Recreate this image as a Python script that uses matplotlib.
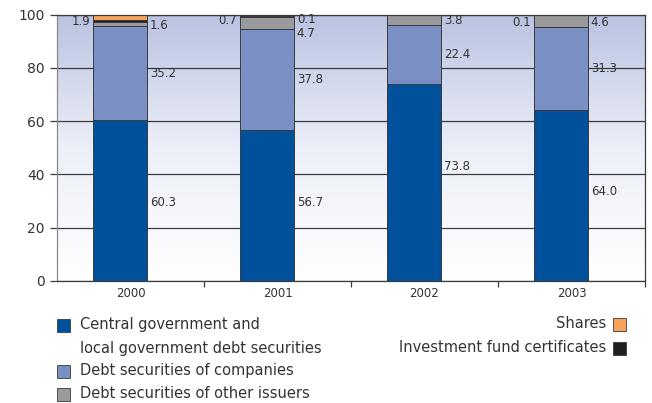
import numpy as np
import matplotlib.pyplot as plt
from matplotlib.patches import Rectangle
from matplotlib.colors import LinearSegmentedColormap

# Portfolio structure by instrument type, % of total
years = ["2000", "2001", "2002", "2003"]
central_gov = [60.3, 56.7, 73.8, 64.0]
companies = [35.2, 37.8, 22.4, 31.3]
other_issuers = [1.6, 4.7, 3.8, 4.6]
fund_certificates = [1.0, 0.1, 0.0, 0.0]
shares = [1.9, 0.7, 0.0, 0.1]

C_CENTRAL = "#00509b"
C_COMPANIES = "#7a8fc3"
C_OTHER = "#9a9a9c"
C_SHARES = "#f7a35c"
C_FUNDS = "#231f20"
EDGE = "#3a3a3a"
TEXT = "#333333"

plt.rcParams["font.family"] = "DejaVu Sans"

fig = plt.figure(figsize=(6.52, 4.03), dpi=100)
ax = fig.add_axes([57 / 652, 122 / 403, 588 / 652, 266.5 / 403])

# soft blue-to-white backdrop
grad = np.linspace(0, 1, 256).reshape(-1, 1)
cmap = LinearSegmentedColormap.from_list("bg", ["#ffffff", "#eceff8", "#b9c2e1"])
ax.imshow(grad, extent=[-0.5, 3.5, 0, 100], origin="lower", aspect="auto",
          cmap=cmap, zorder=0)

x = np.arange(len(years))
bx = x - 0.072
width = 0.367

series = [
    (central_gov, C_CENTRAL),
    (companies, C_COMPANIES),
    (other_issuers, C_OTHER),
    (fund_certificates, C_FUNDS),
    (shares, C_SHARES),
]
bottom = np.zeros(len(years))
for vals, col in series:
    vals = np.array(vals)
    ax.bar(bx, vals, width, bottom=bottom, color=col, edgecolor=EDGE,
           linewidth=0.7, zorder=2)
    bottom += vals

ax.set_xlim(-0.5, 3.5)
ax.set_ylim(0, 100)
ax.set_yticks(range(0, 101, 20))
ax.yaxis.grid(True, color="#3c3c3c", linewidth=0.9, zorder=1)
ax.set_axisbelow(True)
for s in ax.spines.values():
    s.set_color("#3c3c3c")
    s.set_linewidth(0.9)
ax.spines["left"].set_color("#8a8a8a")

ax.set_xticks(x)
ax.set_xticklabels(years, fontsize=8.5, color=TEXT)
ax.set_xticks([0.5, 1.5, 2.5, 3.5], minor=True)
ax.tick_params(axis="x", which="major", length=0, pad=4)
ax.tick_params(axis="x", which="minor", length=4, width=0.9, color="#3c3c3c")
ax.tick_params(axis="y", length=5, width=0.9, color="#3c3c3c",
               labelsize=10, labelcolor=TEXT, pad=4)

right = bx + width / 2 + 0.02
left = bx - width / 2 - 0.02
fs = 8.5

# labels for the two large segments
central_label_y = [29.5, 29.3, 43.0, 33.6]
for i in range(len(years)):
    ax.text(right[i], central_label_y[i], f"{central_gov[i]:.1f}", fontsize=fs,
            color=TEXT, va="center", ha="left", zorder=3)
    mid = central_gov[i] + companies[i] / 2
    ax.text(right[i], mid, f"{companies[i]:.1f}", fontsize=fs,
            color=TEXT, va="center", ha="left", zorder=3)

# small segments at the top of each column
small = [
    (0, "left", shares, 97.2),
    (0, "right", other_issuers, 95.7),
    (1, "left", shares, 97.6),
    (1, "right", fund_certificates, 98.3),
    (1, "right", other_issuers, 93.0),
    (2, "right", other_issuers, 97.6),
    (3, "left", shares, 96.9),
    (3, "right", other_issuers, 96.9),
]
for i, side, vals, yy in small:
    xx = left[i] if side == "left" else right[i]
    ax.text(xx, yy, f"{vals[i]:.1f}", fontsize=fs, color=TEXT, va="center",
            ha="right" if side == "left" else "left", zorder=3)

# legend drawn in pixel coordinates of the figure
W, H = 652, 403
lfs = 10.5


def swatch(px, py, col):
    fig.patches.append(Rectangle((px / W, (H - py - 6.5) / H), 13 / W, 13 / H,
                                 transform=fig.transFigure, facecolor=col,
                                 edgecolor=EDGE, linewidth=0.6))


left_items = [
    (325, C_CENTRAL, "Central government and"),
    (348, None, "local government debt securities"),
    (371, C_COMPANIES, "Debt securities of companies"),
    (394, C_OTHER, "Debt securities of other issuers"),
]
for py, col, label in left_items:
    if col:
        swatch(57, py, col)
    fig.text(80 / W, (H - py) / H, label, fontsize=lfs, color=TEXT,
             va="center", ha="left")

right_items = [
    (324, C_SHARES, "Shares"),
    (348, C_FUNDS, "Investment fund certificates"),
]
for py, col, label in right_items:
    swatch(613, py, col)
    fig.text(606 / W, (H - py) / H, label, fontsize=lfs, color=TEXT,
             va="center", ha="right")

fig.savefig("out.png", dpi=100)
